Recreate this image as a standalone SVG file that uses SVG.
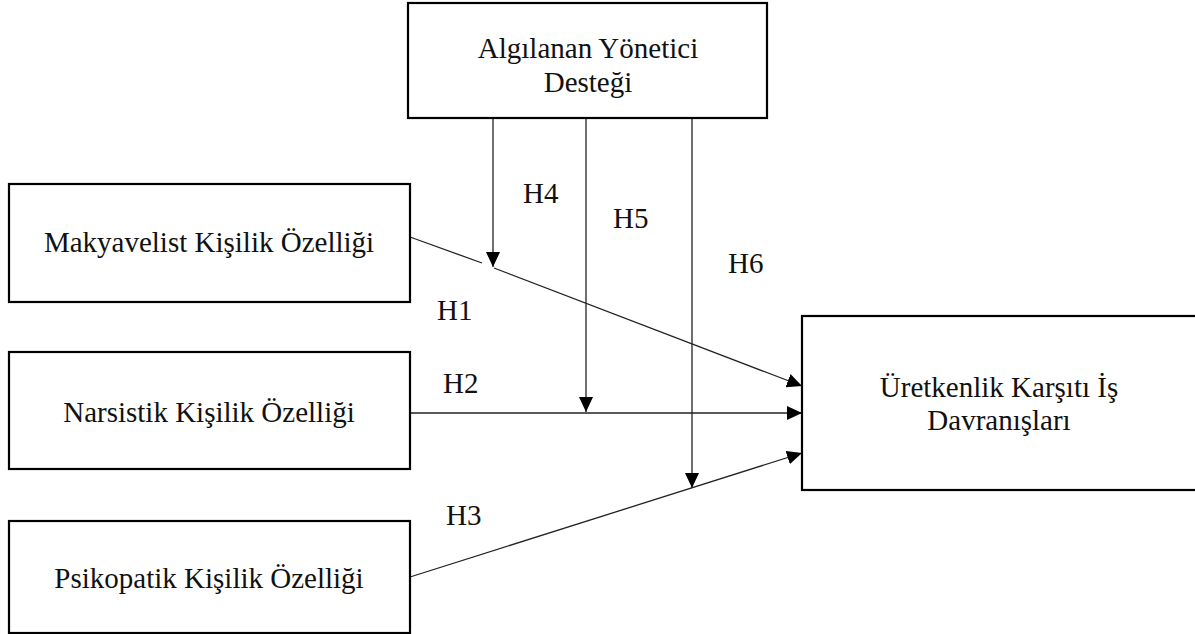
<svg xmlns="http://www.w3.org/2000/svg" width="1195" height="634" viewBox="0 0 1195 634">
<style>
.box{fill:#fff;stroke:#000;stroke-width:2.2}
.lbl{font-family:"Liberation Serif","Times New Roman",serif;font-size:29px;fill:#111;text-anchor:middle}
.h{font-family:"Liberation Serif","Times New Roman",serif;font-size:29px;fill:#111}
.ln{stroke:#222;stroke-width:1.3;fill:none}
.arr{stroke:#222;stroke-width:1.3;fill:none;marker-end:url(#ah)}
</style>
<defs>
<marker id="ah" markerUnits="userSpaceOnUse" viewBox="0 0 15 14" markerWidth="15" markerHeight="14" refX="15" refY="7" orient="auto">
<path d="M0,0 L15,7 L0,14 z" fill="#000"/>
</marker>
</defs>
<rect width="1195" height="634" fill="#fff"/>
<g id="connectors">
<line class="ln" x1="410" y1="237" x2="482" y2="263"/>
<line class="arr" x1="494" y1="268" x2="802" y2="386"/>
<line class="arr" x1="410" y1="413" x2="802" y2="413"/>
<line class="arr" x1="410" y1="577" x2="802" y2="453"/>
<line class="arr" x1="493" y1="118" x2="493" y2="267"/>
<line class="arr" x1="586" y1="118" x2="586" y2="412"/>
<line class="arr" x1="692" y1="118" x2="692" y2="488"/>
</g>
<g id="labels">
<text class="h" x="437" y="320">H1</text>
<text class="h" x="443" y="393">H2</text>
<text class="h" x="446" y="525">H3</text>
<text class="h" x="523" y="203">H4</text>
<text class="h" x="613" y="228">H5</text>
<text class="h" x="728" y="273">H6</text>
</g>
<g id="node-destek">
<rect class="box" x="408" y="3" width="359" height="115"/>
<text class="lbl" x="588" y="58">Algılanan Yönetici</text>
<text class="lbl" x="588" y="92">Desteği</text>
</g>
<g id="node-makyavelist">
<rect class="box" x="9" y="184" width="401" height="118"/>
<text class="lbl" x="209" y="252">Makyavelist Kişilik Özelliği</text>
</g>
<g id="node-narsistik">
<rect class="box" x="9" y="352" width="401" height="117"/>
<text class="lbl" x="209" y="422">Narsistik Kişilik Özelliği</text>
</g>
<g id="node-psikopatik">
<rect class="box" x="9" y="521" width="401" height="112"/>
<text class="lbl" x="209" y="588">Psikopatik Kişilik Özelliği</text>
</g>
<g id="node-ukid">
<rect class="box" x="802" y="316" width="400" height="174"/>
<text class="lbl" x="999" y="397">Üretkenlik Karşıtı İş</text>
<text class="lbl" x="999" y="430">Davranışları</text>
</g>
</svg>
